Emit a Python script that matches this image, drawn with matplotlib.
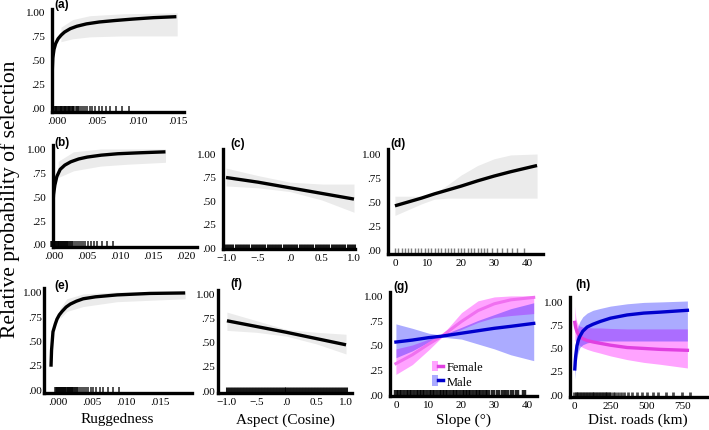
import matplotlib
matplotlib.use("Agg")
import matplotlib.pyplot as plt
from matplotlib.patches import Patch
from matplotlib.lines import Line2D
from matplotlib.legend_handler import HandlerTuple

W, H = 709, 431
SERIF = "Liberation Serif"
SANS = "Liberation Sans"
BAND = "#EBEBEB"
FEM_LINE = "#E040E0"
FEM_BAND = "#FF00FF"
FEM_A = 0.36
MALE_LINE = "#0000CD"
MALE_BAND = "#0000FF"
MALE_A = 0.33

# ---- data ----
# ruggedness (a, b, e)
a_x = [-0.00055, -0.0005, -0.00045, -0.0003, -0.0001, 0.0002, 0.0006, 0.001, 0.0017,
       0.0025, 0.0037, 0.0053, 0.0072, 0.0094, 0.012, 0.0148]
a_y = [0.28, 0.42, 0.52, 0.61, 0.67, 0.72, 0.76, 0.79, 0.825, 0.85, 0.875, 0.895, 0.91,
       0.925, 0.94, 0.95]
a_bx = [0.00055, 0.002, 0.0041, 0.0082, 0.0149]
a_hi = [0.84, 0.92, 0.96, 0.98, 0.99]
a_lo = [0.69, 0.72, 0.74, 0.75, 0.75]

b_x = [-0.00015, -0.0001, 0.0, 0.0002, 0.0005, 0.001, 0.0017, 0.0026, 0.0038, 0.0051,
       0.0072, 0.0097, 0.013, 0.0169]
b_y = [0.27, 0.40, 0.52, 0.62, 0.71, 0.785, 0.83, 0.865, 0.895, 0.915, 0.935, 0.95,
       0.96, 0.97]
b_bx = [0.0007, 0.003, 0.0071, 0.0112, 0.0169]
b_hi = [0.87, 0.97, 1.0, 1.0, 1.0]
b_lo = [0.70, 0.77, 0.82, 0.84, 0.86]

e_x = [-0.00103, -0.00095, -0.00074, -0.0004, -0.00015, 0.0002, 0.0006, 0.0012, 0.0018,
       0.0027, 0.0037, 0.0055, 0.0087, 0.0135, 0.0187]
e_y = [0.23, 0.40, 0.59, 0.67, 0.72, 0.765, 0.80, 0.845, 0.875, 0.905, 0.93, 0.95, 0.97,
       0.985, 0.99]
e_bx = [0.0003, 0.0013, 0.0037, 0.0087, 0.0187]
e_hi = [0.83, 0.93, 0.98, 1.0, 1.0]
e_lo = [0.73, 0.80, 0.85, 0.90, 0.93]

# aspect (c, f)
asp_x = [-1.0, -0.5, 0.0, 0.5, 1.0]
c_y = [0.74, 0.69, 0.63, 0.57, 0.51]
c_hi = [0.84, 0.76, 0.69, 0.67, 0.67]
c_lo = [0.65, 0.63, 0.59, 0.50, 0.37]
f_y = [0.72, 0.66, 0.60, 0.535, 0.47]
f_hi = [0.81, 0.72, 0.63, 0.60, 0.58]
f_lo = [0.62, 0.60, 0.56, 0.48, 0.375]

# slope (d)
d_x = [0, 4, 8, 12, 16, 20, 25, 30, 35, 43]
d_y = [0.45, 0.49, 0.53, 0.575, 0.615, 0.655, 0.71, 0.76, 0.805, 0.87]
d_hi = [0.55, 0.55, 0.55, 0.58, 0.67, 0.77, 0.87, 0.94, 0.98, 0.99]
d_lo = [0.35, 0.41, 0.47, 0.52, 0.53, 0.53, 0.53, 0.53, 0.53, 0.53]

# slope by sex (g)
g_x = [0, 5, 10, 14, 20, 25, 30, 35, 42]
g_fem = [0.31, 0.40, 0.51, 0.59, 0.74, 0.85, 0.92, 0.96, 0.985]
g_fem_hi = [0.46, 0.50, 0.56, 0.60, 0.83, 0.95, 0.99, 1.0, 1.0]
g_fem_lo = [0.20, 0.30, 0.45, 0.58, 0.66, 0.73, 0.78, 0.80, 0.82]
g_male = [0.53, 0.55, 0.575, 0.59, 0.62, 0.645, 0.67, 0.69, 0.72]
g_male_hi = [0.715, 0.67, 0.62, 0.60, 0.68, 0.75, 0.81, 0.87, 0.93]
g_male_lo = [0.37, 0.44, 0.53, 0.58, 0.56, 0.51, 0.46, 0.40, 0.34]

# distance to roads by sex (h)
h_x = [5, 8, 12, 20, 30, 40, 60, 90, 130, 180, 250, 365, 480, 590, 780]
h_fem = [0.77, 0.74, 0.71, 0.67, 0.64, 0.62, 0.595, 0.575, 0.56, 0.545, 0.525, 0.50,
         0.49, 0.48, 0.47]
h_fem_hi = [0.95, 0.88, 0.82, 0.77, 0.74, 0.73, 0.72, 0.715, 0.71, 0.71, 0.705, 0.70,
            0.70, 0.70, 0.70]
h_fem_lo = [0.58, 0.57, 0.56, 0.55, 0.53, 0.52, 0.50, 0.48, 0.46, 0.44, 0.41, 0.37,
            0.34, 0.32, 0.28]
h_male = [0.27, 0.35, 0.42, 0.52, 0.58, 0.62, 0.675, 0.72, 0.75, 0.78, 0.815, 0.85,
          0.87, 0.88, 0.90]
h_male_hi = [0.40, 0.50, 0.58, 0.68, 0.74, 0.78, 0.83, 0.87, 0.90, 0.92, 0.945, 0.97,
             0.985, 0.99, 1.0]
h_male_lo = [0.16, 0.22, 0.30, 0.40, 0.46, 0.50, 0.53, 0.55, 0.56, 0.57, 0.57, 0.57,
             0.57, 0.57, 0.57]

# rug (observed locations)
rug_rugged = [-0.0004, -0.0003, -0.0002, -0.0001, 0.0, 0.0001, 0.0002, 0.0003, 0.0004,
              0.0005, 0.0006, 0.0007, 0.0008, 0.0009, 0.001, 0.0011, 0.0012, 0.0013,
              0.0014, 0.0015, 0.0016, 0.0017, 0.0018, 0.0019, 0.002, 0.0021, 0.0022,
              0.0024, 0.0025, 0.0027, 0.0028, 0.003, 0.0033, 0.0035, 0.0038, 0.0041,
              0.0044, 0.0048, 0.0052, 0.0056, 0.0061, 0.0066, 0.0073, 0.0081, 0.0090]
rug_aspect = [-1.0, -0.95, -0.9, -0.85, -0.8, -0.75, -0.7, -0.65, -0.6, -0.55, -0.5,
              -0.45, -0.4, -0.35, -0.3, -0.25, -0.2, -0.15, -0.1, -0.05, 0.0, 0.05,
              0.1, 0.15, 0.2, 0.25, 0.3, 0.35, 0.4, 0.45, 0.5, 0.55, 0.6, 0.65, 0.7,
              0.75, 0.8, 0.85, 0.9, 0.95, 1.0]
rug_slope = [0, 1, 2, 3, 4, 5, 6, 7, 8, 9, 10, 11, 12, 13, 14, 15, 16, 17, 18, 19, 20,
             21, 22, 23, 24, 25, 26, 27, 28, 29.5, 31, 32.5, 34, 35.5, 37, 39]
rug_roads = [0, 10, 20, 30, 40, 50, 60, 70, 80, 90, 100, 110, 120, 130, 140, 150, 160,
             170, 180, 190, 200, 210, 220, 230, 240, 250, 265, 280, 300, 320, 345, 370,
             400, 430, 465, 500, 540, 580, 630, 680, 740, 800]

prob_ticks = [0, 0.25, 0.5, 0.75, 1.0]
prob_labels = [".00", ".25", ".50", ".75", "1.00"]
rug_ticks = [0, 0.005, 0.010, 0.015, 0.020]
rug_labels = [".000", ".005", ".010", ".015", ".020"]
asp_labels = ["\u22121.0", "\u2212.5", ".0", "0.5", "1.0"]
slope_ticks = [0, 10, 20, 30, 40]
roads_ticks = [0, 250, 500, 750]

fig = plt.figure(figsize=(W / 100, H / 100), dpi=100)


def panel(x0, x1, ytop, ybot, xlim, ylim, tag, tagx, tagy, ypad=5):
    ax = fig.add_axes([x0 / W, 1 - ybot / H, (x1 - x0) / W, (ybot - ytop) / H])
    ax.set_xlim(*xlim)
    ax.set_ylim(*ylim)
    for s in ["top", "right"]:
        ax.spines[s].set_visible(False)
    for s in ["left", "bottom"]:
        ax.spines[s].set_linewidth(2.4)
        ax.spines[s].set_color("black")
    ax.tick_params(length=0, labelsize=8, pad=3)
    ax.tick_params(axis="y", pad=ypad)
    ax.set_yticks(prob_ticks)
    ax.set_yticklabels(prob_labels, family=SERIF)
    fig.text(tagx / W, 1 - tagy / H, tag, family=SANS, weight="bold", fontsize=8.5,
             ha="left", va="bottom")
    return ax


def rug(ax, vals, lw=1.2, alpha=0.8, h=0.055):
    ax.vlines(vals, 0, h, transform=ax.get_xaxis_transform(), color="black",
              lw=lw, alpha=alpha, clip_on=False)


def grey_fit(ax, x, y, bx, hi, lo):
    ax.fill_between(bx, lo, hi, color=BAND, lw=0)
    ax.plot(x, y, color="black", lw=2.4, solid_capstyle="butt", solid_joinstyle="round")


# (a)
ax = panel(52, 184, 10, 113, (-0.00055, 0.01574), (-0.042, 1.03), "(a)", 54, 11)
grey_fit(ax, a_x, a_y, a_bx, a_hi, a_lo)
rug(ax, rug_rugged)
ax.set_xticks(rug_ticks[:4])
ax.set_xticklabels(rug_labels[:4], family=SERIF)

# (b)
ax = panel(53, 197, 146, 248, (-0.00008, 0.02166), (-0.032, 1.042), "(b)", 54, 149)
grey_fit(ax, b_x, b_y, b_bx, b_hi, b_lo)
rug(ax, rug_rugged)
ax.set_xticks(rug_ticks)
ax.set_xticklabels(rug_labels, family=SERIF)

# (c)
ax = panel(223, 355, 150, 250, (-1.047, 1.016), (-0.021, 1.043), "(c)", 230, 150)
grey_fit(ax, asp_x, c_y, asp_x, c_hi, c_lo)
rug(ax, rug_aspect, lw=2.2, alpha=0.9)
ax.set_xticks(asp_x)
ax.set_xticklabels(asp_labels, family=SERIF)

# (d)
ax = panel(388, 543, 150, 255, (-2.1, 44.8), (-0.052, 1.042), "(d)", 390, 150)
grey_fit(ax, d_x, d_y, d_x, d_hi, d_lo)
rug(ax, rug_slope, lw=1.0, alpha=0.5)
ax.set_xticks(slope_ticks)
ax.set_xticklabels([str(t) for t in slope_ticks], family=SERIF)

# (e)
ax = panel(44, 192, 289, 394, (-0.00206, 0.0197), (-0.041, 1.041), "(e)", 54, 292, ypad=1.5)
grey_fit(ax, e_x, e_y, e_bx, e_hi, e_lo)
rug(ax, rug_rugged)
ax.set_xticks(rug_ticks[:4])
ax.set_xticklabels(rug_labels[:4], family=SERIF)

# (f)
ax = panel(218, 352, 291, 394, (-1.15, 1.10), (-0.031, 1.04), "(f)", 230, 290, ypad=2)
grey_fit(ax, asp_x, f_y, asp_x, f_hi, f_lo)
rug(ax, rug_aspect, lw=2.2, alpha=0.9)
ax.set_xticks(asp_x)
ax.set_xticklabels(asp_labels, family=SERIF)

# (g)
ax = panel(390, 537, 293, 397, (-1.8, 43), (-0.02, 1.04), "(g)", 393, 293)
ax.plot(g_x, g_fem, color="#F070F0", lw=2.2)
ax.fill_between(g_x, g_fem_lo, g_fem_hi, color=FEM_BAND, alpha=FEM_A, lw=0)
ax.fill_between(g_x, g_male_lo, g_male_hi, color=MALE_BAND, alpha=MALE_A, lw=0)
ax.plot(g_x, g_male, color=MALE_LINE, lw=2.4)
rug(ax, rug_slope, lw=3.2, alpha=0.85)
ax.set_xticks(slope_ticks)
ax.set_xticklabels([str(t) for t in slope_ticks], family=SERIF)
handles = [(Patch(facecolor=FEM_BAND, alpha=FEM_A, lw=0), Line2D([], [], color=FEM_LINE, lw=2.5)),
           (Patch(facecolor=MALE_BAND, alpha=MALE_A, lw=0), Line2D([], [], color=MALE_LINE, lw=2.5))]
ax.legend(handles, ["Female", "Male"], handler_map={tuple: HandlerTuple(ndivide=None)},
          loc="upper left", bbox_to_anchor=(432 / W, 1 - 362 / H),
          bbox_transform=fig.transFigure, frameon=False, prop={"family": SERIF, "size": 9},
          handlelength=0.9, handleheight=0.9, handletextpad=0.3, labelspacing=0.15,
          borderpad=0, borderaxespad=0)

# (h)
ax = panel(570, 707, 298, 398, (-28, 915), (-0.032, 1.043), "(h)", 575, 291)
ax.fill_between(h_x, h_fem_lo, h_fem_hi, color=FEM_BAND, alpha=FEM_A, lw=0)
ax.fill_between(h_x, h_male_lo, h_male_hi, color=MALE_BAND, alpha=MALE_A, lw=0)
ax.plot(h_x, h_fem, color=FEM_LINE, lw=2.4)
ax.plot(h_x, h_male, color=MALE_LINE, lw=2.4)
rug(ax, rug_roads, lw=2.0, alpha=0.7)
ax.set_xticks(roads_ticks)
ax.set_xticklabels([str(t) for t in roads_ticks], family=SERIF)

# axis titles
fig.text(10 / W, 1 - 199 / H, "Relative probability of selection", rotation=90,
         family=SERIF, fontsize=15.5, ha="center", va="center")
for label, cx in [("Ruggedness", 117), ("Aspect (Cosine)", 285),
                  ("Slope (\u00b0)", 463), ("Dist. roads (km)", 638)]:
    fig.text(cx / W, 1 - 420 / H, label, family=SERIF, fontsize=11, ha="center", va="center")

fig.savefig("out.png", dpi=100)
